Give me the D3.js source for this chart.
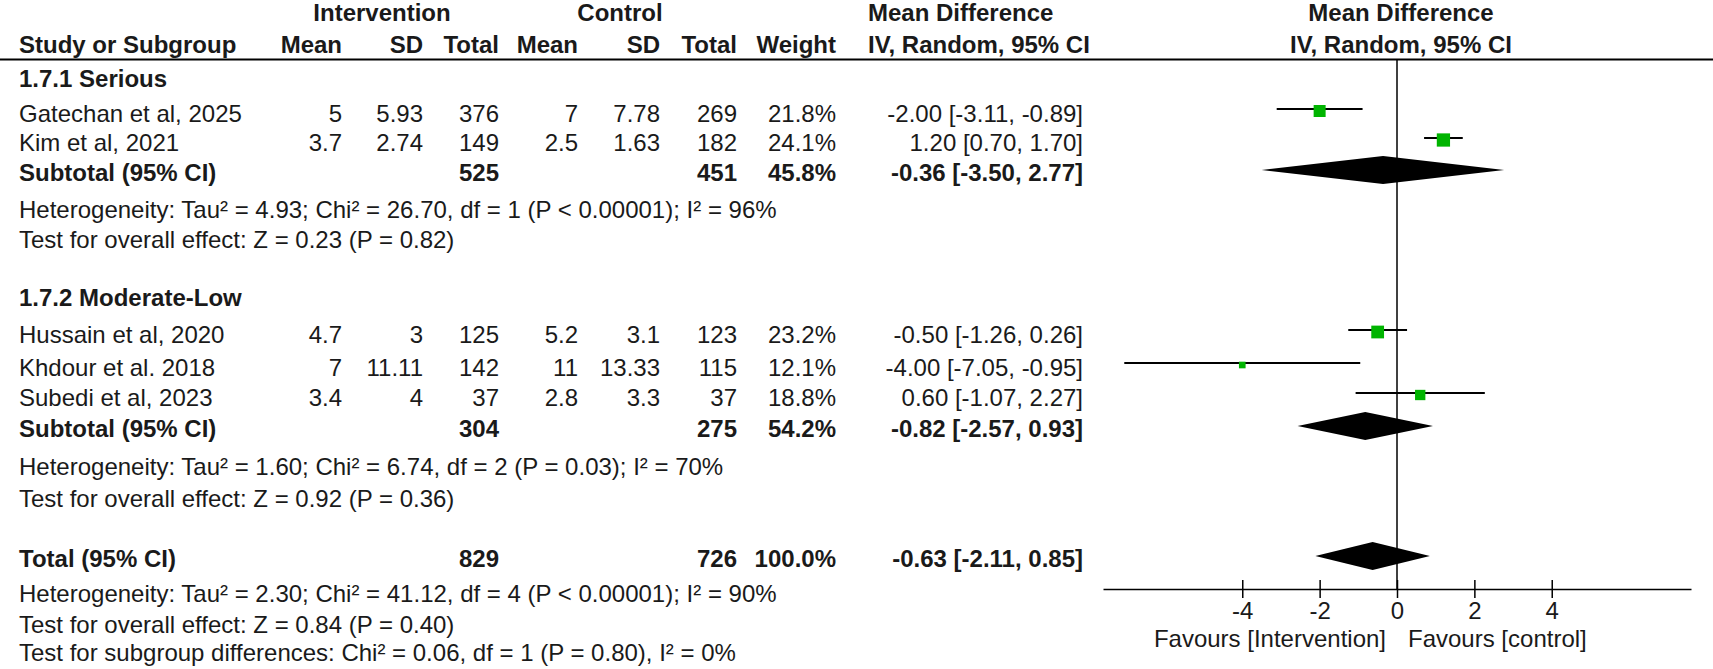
<!DOCTYPE html>
<html>
<head>
<meta charset="utf-8">
<script src="https://cdn.jsdelivr.net/npm/d3@7"></script>
<style>
body { margin: 0; background: #fff; }
text { font-family: "Liberation Sans", Arial, sans-serif; font-size: 24px; fill: #1a1a1a; }
.b { font-weight: bold; }
</style>
</head>
<body>
<svg id="chart" width="1713" height="669"></svg>
<script>
// studies
var studies   = ["Gatechan et al, 2025", "Kim et al, 2021", "Hussain et al, 2020", "Khdour et al. 2018", "Subedi et al, 2023"];
var intMean   = [5, 3.7, 4.7, 7, 3.4];
var intSD     = [5.93, 2.74, 3, 11.11, 4];
var intTotal  = [376, 149, 125, 142, 37];
var ctrlMean  = [7, 2.5, 5.2, 11, 2.8];
var ctrlSD    = [7.78, 1.63, 3.1, 13.33, 3.3];
var ctrlTotal = [269, 182, 123, 115, 37];
var weight    = [21.8, 24.1, 23.2, 12.1, 18.8];
var md        = [-2.00, 1.20, -0.50, -4.00, 0.60];
var mdLo      = [-3.11, 0.70, -1.26, -7.05, -1.07];
var mdHi      = [-0.89, 1.70, 0.26, -0.95, 2.27];
var studyGroup = [0, 0, 1, 1, 1];

// subgroups
var subgroups    = ["1.7.1 Serious", "1.7.2 Moderate-Low"];
var subIntTotal  = [525, 304];
var subCtrlTotal = [451, 275];
var subWeight    = [45.8, 54.2];
var subMD        = [-0.36, -0.82];
var subLo        = [-3.50, -2.57];
var subHi        = [2.77, 0.93];
var subHet  = ["Heterogeneity: Tau² = 4.93; Chi² = 26.70, df = 1 (P < 0.00001); I² = 96%",
               "Heterogeneity: Tau² = 1.60; Chi² = 6.74, df = 2 (P = 0.03); I² = 70%"];
var subTest = ["Test for overall effect: Z = 0.23 (P = 0.82)",
               "Test for overall effect: Z = 0.92 (P = 0.36)"];

// overall
var totIntTotal = 829, totCtrlTotal = 726, totWeight = 100.0;
var totMD = -0.63, totLo = -2.11, totHi = 0.85;
var totNotes = ["Heterogeneity: Tau² = 2.30; Chi² = 41.12, df = 4 (P < 0.00001); I² = 90%",
                "Test for overall effect: Z = 0.84 (P = 0.40)",
                "Test for subgroup differences: Chi² = 0.06, df = 1 (P = 0.80), I² = 0%"];

var tickVals = [-4, -2, 0, 2, 4];
var favours = ["Favours [Intervention]", "Favours [control]"];

// layout
var svg = d3.select("#chart");
var loc = d3.formatLocale({decimal: ".", thousands: ",", grouping: [3], currency: ["", ""], minus: "-"});
var f2 = loc.format(".2f"), f1 = loc.format(".1f"), fi = loc.format("d");
var ci = (m, l, h) => f2(m) + " [" + f2(l) + ", " + f2(h) + "]";

var col = {name: 19, iMean: 342, iSD: 423, iTot: 499, cMean: 578, cSD: 660, cTot: 737, w: 836, md: 1083, mdHead: 868};
var x = d3.scaleLinear().domain([-7.6, 7.6]).range([1103, 1691]);
var axisY = 589;

// baselines of text rows
var groupRowY = [[87, 122, 151, 181, 218, 248], [306, 343, 376, 406, 437, 475, 507]];
var totalRowY = [567, 602, 633, 661];

function txt(xp, yp, s, anchor, bold) {
  return svg.append("text").attr("x", xp).attr("y", yp)
    .attr("text-anchor", anchor || "start")
    .classed("b", !!bold).text(s);
}

// header
txt(382, 21, "Intervention", "middle", true);
txt(620, 21, "Control", "middle", true);
txt(col.mdHead, 21, "Mean Difference", "start", true);
txt(1401, 21, "Mean Difference", "middle", true);
txt(col.name, 53, "Study or Subgroup", "start", true);
[["Mean", col.iMean], ["SD", col.iSD], ["Total", col.iTot], ["Mean", col.cMean],
 ["SD", col.cSD], ["Total", col.cTot], ["Weight", col.w]].forEach(function(h) {
  txt(h[1], 53, h[0], "end", true);
});
txt(col.mdHead, 53, "IV, Random, 95% CI", "start", true);
txt(1401, 53, "IV, Random, 95% CI", "middle", true);

svg.append("line").attr("x1", 0).attr("x2", 1713).attr("y1", 59.5).attr("y2", 59.5)
  .attr("stroke", "#000").attr("stroke-width", 2);

// zero line
svg.append("line").attr("x1", x(0)).attr("x2", x(0)).attr("y1", 60).attr("y2", axisY)
  .attr("stroke", "#000").attr("stroke-width", 1.5);

var plot = svg.append("g");

function diamond(cy, m, l, h) {
  plot.append("path")
    .attr("d", "M" + x(l) + "," + cy + "L" + x(m) + "," + (cy - 14) + "L" + x(h) + "," + cy + "L" + x(m) + "," + (cy + 14) + "Z")
    .attr("fill", "#000");
}

subgroups.forEach(function(g, gi) {
  var ys = groupRowY[gi];
  txt(col.name, ys[0], g, "start", true);
  var idx = d3.range(studies.length).filter(i => studyGroup[i] === gi);
  idx.forEach(function(i, k) {
    var y = ys[k + 1];
    txt(col.name, y, studies[i]);
    txt(col.iMean, y, intMean[i], "end");
    txt(col.iSD, y, intSD[i], "end");
    txt(col.iTot, y, intTotal[i], "end");
    txt(col.cMean, y, ctrlMean[i], "end");
    txt(col.cSD, y, ctrlSD[i], "end");
    txt(col.cTot, y, ctrlTotal[i], "end");
    txt(col.w, y, f1(weight[i]) + "%", "end");
    txt(col.md, y, ci(md[i], mdLo[i], mdHi[i]), "end");
    var cy = y - 11, s = weight[i] * 0.55;
    plot.append("line").attr("x1", x(mdLo[i])).attr("x2", x(mdHi[i]))
      .attr("y1", cy - 2).attr("y2", cy - 2).attr("stroke", "#000").attr("stroke-width", 1.8);
    plot.append("rect").attr("x", x(md[i]) - s / 2).attr("y", cy - s / 2)
      .attr("width", s).attr("height", s).attr("fill", "#00b400");
  });
  var ySub = ys[idx.length + 1];
  txt(col.name, ySub, "Subtotal (95% CI)", "start", true);
  txt(col.iTot, ySub, fi(subIntTotal[gi]), "end", true);
  txt(col.cTot, ySub, fi(subCtrlTotal[gi]), "end", true);
  txt(col.w, ySub, f1(subWeight[gi]) + "%", "end", true);
  txt(col.md, ySub, ci(subMD[gi], subLo[gi], subHi[gi]), "end", true);
  diamond(ySub - 11, subMD[gi], subLo[gi], subHi[gi]);
  txt(col.name, ys[idx.length + 2], subHet[gi]);
  txt(col.name, ys[idx.length + 3], subTest[gi]);
});

// overall
txt(col.name, totalRowY[0], "Total (95% CI)", "start", true);
txt(col.iTot, totalRowY[0], fi(totIntTotal), "end", true);
txt(col.cTot, totalRowY[0], fi(totCtrlTotal), "end", true);
txt(col.w, totalRowY[0], f1(totWeight) + "%", "end", true);
txt(col.md, totalRowY[0], ci(totMD, totLo, totHi), "end", true);
diamond(totalRowY[0] - 11, totMD, totLo, totHi);
totNotes.forEach(function(n, i) { txt(col.name, totalRowY[i + 1], n); });

// axis
var ax = svg.append("g").attr("transform", "translate(0," + axisY + ")")
  .call(d3.axisBottom(x).tickValues(tickVals).tickSizeOuter(0).tickFormat(fi));
ax.select(".domain").attr("stroke", "#000").attr("stroke-width", 1.5);
ax.selectAll(".tick line").attr("y1", -9).attr("y2", 9).attr("stroke", "#000").attr("stroke-width", 1.5);
ax.selectAll(".tick text").attr("y", 30).attr("dy", null)
  .style("font-family", "'Liberation Sans', Arial, sans-serif").style("font-size", "24px").attr("fill", "#1a1a1a");

txt(x(0) - 11, 647, favours[0], "end");
txt(x(0) + 11, 647, favours[1], "start");
</script>
</body>
</html>
